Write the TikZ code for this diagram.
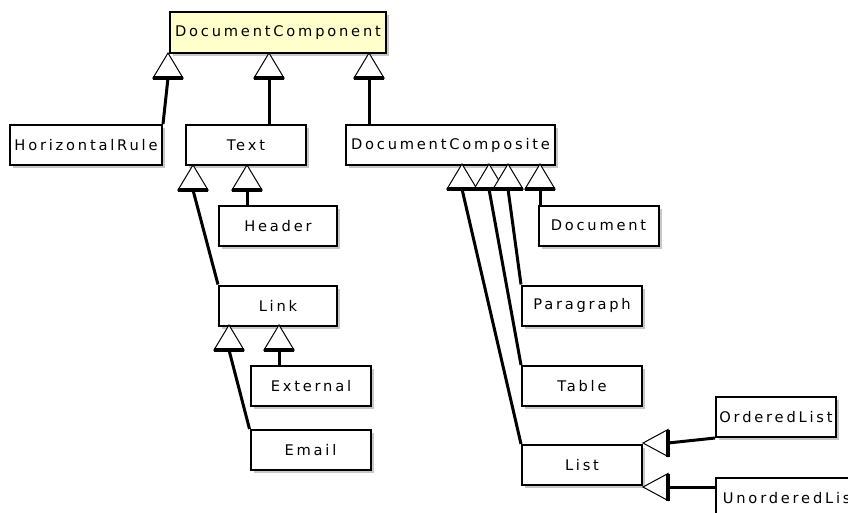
\documentclass[tikz,border=0pt]{standalone}
\usepackage{fontspec}
\setsansfont[LetterSpace=19]{DejaVu Sans}
\usetikzlibrary{shadows}

\definecolor{rootfill}{HTML}{FFFFCC}

\newcommand{\genup}[2]{%
  \draw[tri] (#1) -- ++(-15,25) -- ++(30,0) -- cycle;
  \draw[trib] (#1) ++(-15,25) -- ++(30,0);
  \path (#1) ++(0,25) coordinate (#2);}
\newcommand{\genleft}[2]{%
  \draw[tri] (#1) -- ++(25,-13.5) -- ++(0,27) -- cycle;
  \draw[trib] (#1) ++(25,-13.5) -- ++(0,27);
  \path (#1) ++(25,0) coordinate (#2);}

\begin{document}
\begin{tikzpicture}[x=0.75pt,y=-0.75pt,
  cls/.style={draw,line width=1.5pt,fill=white,minimum width=90pt,minimum height=30pt,
    inner sep=0.5pt,font=\sffamily\fontsize{11pt}{13pt}\selectfont,
    drop shadow={shadow xshift=2.25pt,shadow yshift=-2.25pt,fill=black!22,opacity=1}},
  tri/.style={draw,line width=0.75pt,fill=white},
  trib/.style={line width=2.5pt},
  gen/.style={line width=2.25pt}]
  \clip (0,0) rectangle (848,512);
  \fill[white] (0,0) rectangle (848,512);

  \node[cls,fill=rootfill,minimum width=162pt,minimum height=30.75pt] (dc) at (278,32.5) {DocumentComponent};
  \node[cls,minimum width=114pt] (hr)   at (86,145)    {HorizontalRule};
  \node[cls]                     (txt)  at (246,145)   {Text};
  \node[cls,minimum width=156.75pt] (comp) at (450.5,145) {DocumentComposite};
  \node[cls,minimum width=88.5pt] (hdr) at (278,226)   {Header};
  \node[cls,minimum width=88.5pt] (lnk) at (278,305.5) {Link};
  \node[cls]                     (ext)  at (311,386)   {External};
  \node[cls]                     (mail) at (310.5,450) {Email};
  \node[cls]                     (doc)  at (598.5,225.5) {Document};
  \node[cls]                     (par)  at (582,305.5) {Paragraph};
  \node[cls]                     (tab)  at (582,386)   {Table};
  \node[cls]                     (lst)  at (582,465)   {List};
  \node[cls]                     (ol)   at (776,417)   {OrderedList};
  \node[cls,minimum width=112.5pt] (ul) at (791,498)   {UnorderedList};

  \genup{168,53}{g1}  \genup{269,53}{g2}  \genup{369,53}{g3}
  \genup{193,165}{g4} \genup{247,165}{g5}
  \genup{229,325}{g6} \genup{279,325}{g7}
  \genup{462,164}{g8} \genup{489,164}{g9} \genup{508,164}{g10} \genup{540,164}{g11}
  \genleft{643,443}{g12} \genleft{643,487}{g13}

  \draw[gen] (g1) -- (hr.north east);
  \draw[gen] (g2) -- (g2 |- txt.north);
  \draw[gen] (g3) -- (g3 |- comp.north);
  \draw[gen] (g4) -- (lnk.north west);
  \draw[gen] (g5) -- (g5 |- hdr.north);
  \draw[gen] (g6) -- (mail.north west);
  \draw[gen] (g7) -- (g7 |- ext.north);
  \draw[gen] (g8) -- (lst.north west);
  \draw[gen] (g9) -- (tab.north west);
  \draw[gen] (g10) -- (par.north west);
  \draw[gen] (g11) -- (g11 |- doc.north);
  \draw[gen] (g12) -- (ol.south west);
  \draw[gen] (g13) -- (g13 -| ul.west);
\end{tikzpicture}
\end{document}
